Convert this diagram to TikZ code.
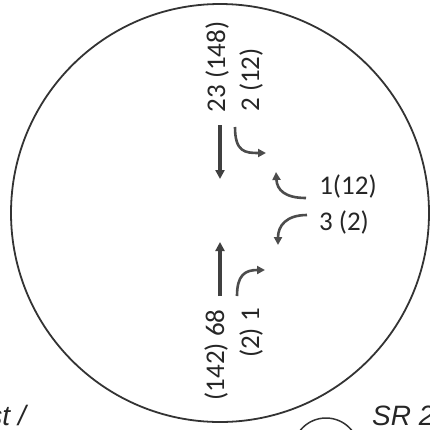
\documentclass[tikz,border=0pt]{standalone}
\usepackage{fontspec}
\setmainfont{Carlito}
\newfontfamily\signfont{Liberation Sans}
\usetikzlibrary{arrows.meta}

\begin{document}
\begin{tikzpicture}[x=1pt, y=-1pt, font=\fontsize{27}{30}\selectfont,
  lane/.style={draw=black!75, line width=3.4pt, -{Triangle[length=9pt, width=9pt]}},
  turn/.style={draw=black!70, line width=2.6pt, -{Triangle[length=8pt, width=8pt]}},
  count/.style={black!85, inner sep=0pt},
  sign/.style={black!85, font=\signfont\itshape\fontsize{28}{30}\selectfont, inner sep=0pt}]
\useasboundingbox (0,0) rectangle (430,429);
\clip (0,0) rectangle (430,429);

% Roundabout
\draw[black!80, line width=1.8pt] (220,213) circle (209);
\draw[black!80, line width=1.5pt] (326,451) circle (33);

% Volumes
\node[count, rotate=90] (northT) at (217,67) {23 (148)};
\node[count, rotate=90] (northR) at (251,80) {2 (12)};
\node[count] (eastR) at (348,186) {1(12)};
\node[count] (eastL) at (344,222) {3 (2)};
\node[count, rotate=90] (southT) at (216,355) {(142) 68};
\node[count, rotate=90] (southR) at (251,333) {(2) 1};

% Movement arrows
\coordinate (nT1) at (220,125); \coordinate (nT2) at (220,179);
\coordinate (nR1) at (235,127); \coordinate (nR2) at (266,153);
\coordinate (eR1) at (306,198); \coordinate (eR2) at (276,172);
\coordinate (eL1) at (307,215); \coordinate (eL2) at (278,245);
\coordinate (sT1) at (220,296); \coordinate (sT2) at (220,242);
\coordinate (sR1) at (237,296); \coordinate (sR2) at (265,270);
\draw[lane] (nT1) -- (nT2);
\draw[turn] (nR1) .. controls (235,152) and (245,153) .. (nR2);
\draw[turn] (eR1) .. controls (285,198) and (277,190) .. (eR2);
\draw[turn] (eL1) .. controls (286,215) and (278,226) .. (eL2);
\draw[lane] (sT1) -- (sT2);
\draw[turn] (sR1) .. controls (237,275) and (245,270) .. (sR2);

% Cut-off labels
\node[sign, anchor=base east] (westSign) at (26,425) {st /};
\node[sign, anchor=base west] (eastSign) at (372,425) {SR 2};
\end{tikzpicture}
\end{document}
